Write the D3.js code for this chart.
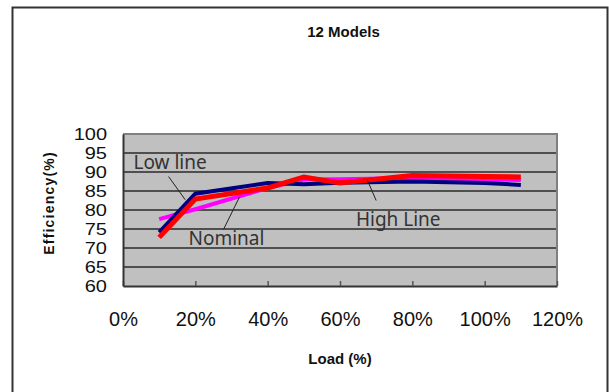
<!DOCTYPE html>
<html>
<head>
<meta charset="utf-8">
<script src="https://cdn.jsdelivr.net/npm/d3@7"></script>
<style>
  html, body { margin: 0; padding: 0; background: #fff; }
  svg { display: block; }
</style>
</head>
<body>
<svg id="chart" width="609" height="392"></svg>
<script>
// Load points (% of rated load)
const loads = [10, 20, 40, 50, 60, 80, 100, 110];
// Efficiency (%) per input line condition
const lowLine  = [74.1, 84.3, 87.1, 86.8, 87.2, 87.5, 87.1, 86.6];
const nominal  = [77.6, 80.2, 85.8, 88.0, 88.1, 88.4, 88.0, 87.9];
const highLine = [72.8, 82.9, 85.8, 88.7, 87.1, 89.1, 88.8, 88.7];

const xTicks = [0, 20, 40, 60, 80, 100, 120];
const yTicks = [60, 65, 70, 75, 80, 85, 90, 95, 100];

// Callout labels: text, text anchor point, leader line from/to (data units)
const callouts = [
  { text: "Low line",  tx: 2.9,  ty: 90.8, x1: 12.6, y1: 88.8, x2: 17.2, y2: 82.7 },
  { text: "Nominal",   tx: 18.1, ty: 70.7, x1: 27.8, y1: 74.9, x2: 32.2, y2: 83.4 },
  { text: "High Line", tx: 64.4, ty: 75.9, x1: 67.5, y1: 88.0, x2: 70.0, y2: 82.5 }
];

const svg = d3.select("#chart");

// Outer frame
svg.append("rect")
  .attr("x", 12.5).attr("y", 7.5)
  .attr("width", 595).attr("height", 400)
  .attr("fill", "none").attr("stroke", "#333").attr("stroke-width", 2);

const plot = { left: 123, right: 557, top: 134, bottom: 286 };

const x = d3.scaleLinear().domain([0, 120]).range([plot.left, plot.right]);
const y = d3.scaleLinear().domain([60, 100]).range([plot.bottom, plot.top]);

// Plot background
svg.append("rect")
  .attr("x", plot.left).attr("y", plot.top)
  .attr("width", plot.right - plot.left).attr("height", plot.bottom - plot.top)
  .attr("fill", "#C0C0C0");

// Horizontal gridlines
svg.append("g").selectAll("line")
  .data(yTicks.filter(v => v > 60))
  .join("line")
  .attr("x1", plot.left).attr("x2", plot.right)
  .attr("y1", d => y(d)).attr("y2", d => y(d))
  .attr("stroke", "#2a2a2a").attr("stroke-width", 1.3);

// Right and top border of the plot area
svg.append("path")
  .attr("d", `M${plot.left},${plot.top}H${plot.right}V${plot.bottom}`)
  .attr("fill", "none").attr("stroke", "#808080").attr("stroke-width", 2);

// X axis (ticks point into the plot)
const xAxis = svg.append("g")
  .attr("transform", `translate(0,${plot.bottom})`)
  .call(d3.axisBottom(x).tickValues(xTicks).tickFormat(d => d + "%")
    .tickSizeInner(-5).tickSizeOuter(0).tickPadding(26));
xAxis.select(".domain").attr("stroke", "#333").attr("stroke-width", 2);
xAxis.selectAll(".tick line").attr("stroke", "#555").attr("stroke-width", 1.5);
xAxis.selectAll(".tick text")
  .attr("font-family", "Liberation Sans, Arial, sans-serif")
  .attr("font-size", 20).attr("fill", "#111");

// Y axis
const yAxis = svg.append("g")
  .attr("transform", `translate(${plot.left},0)`)
  .call(d3.axisLeft(y).tickValues(yTicks).tickSizeInner(0).tickSizeOuter(0).tickPadding(16));
yAxis.select(".domain").attr("stroke", "#333").attr("stroke-width", 2);
yAxis.selectAll(".tick text")
  .attr("font-family", "Liberation Sans, Arial, sans-serif")
  .attr("font-size", 20).attr("fill", "#111")
  .attr("transform", "scale(1,0.8)");

// Series lines
const line = d3.line().x((d, i) => x(loads[i])).y(d => y(d));
const series = [
  { values: nominal,  color: "#FF00FF", width: 4 },
  { values: lowLine,  color: "#000080", width: 4 },
  { values: highLine, color: "#FF0000", width: 5 }
];
svg.append("g").selectAll("path")
  .data(series)
  .join("path")
  .attr("d", d => line(d.values))
  .attr("fill", "none")
  .attr("stroke", d => d.color)
  .attr("stroke-width", d => d.width)
  .attr("stroke-linejoin", "miter");

// Callouts
const cg = svg.append("g");
cg.selectAll("line")
  .data(callouts)
  .join("line")
  .attr("x1", d => x(d.x1)).attr("y1", d => y(d.y1))
  .attr("x2", d => x(d.x2)).attr("y2", d => y(d.y2))
  .attr("stroke", "#222").attr("stroke-width", 1);
cg.selectAll("text")
  .data(callouts)
  .join("text")
  .attr("x", d => x(d.tx)).attr("y", d => y(d.ty))
  .attr("font-family", "Noto Sans, DejaVu Sans, sans-serif")
  .attr("font-size", 19).attr("fill", "#333")
  .text(d => d.text);

// Titles
const boldFont = "Liberation Sans, Arial, sans-serif";
svg.append("text")
  .attr("x", 343.5).attr("y", 37)
  .attr("text-anchor", "middle")
  .attr("font-family", boldFont).attr("font-weight", "bold")
  .attr("font-size", 15).attr("fill", "#111")
  .text("12 Models");

svg.append("text")
  .attr("x", 340).attr("y", 364)
  .attr("text-anchor", "middle")
  .attr("font-family", boldFont).attr("font-weight", "bold")
  .attr("font-size", 15).attr("fill", "#111")
  .text("Load (%)");

svg.append("text")
  .attr("transform", `translate(54,${(152 + 254) / 2}) rotate(-90)`)
  .attr("text-anchor", "middle")
  .attr("font-family", boldFont).attr("font-weight", "bold")
  .attr("font-size", 14).attr("letter-spacing", 1.2).attr("fill", "#111")
  .text("Efficiency(%)");
</script>
</body>
</html>
